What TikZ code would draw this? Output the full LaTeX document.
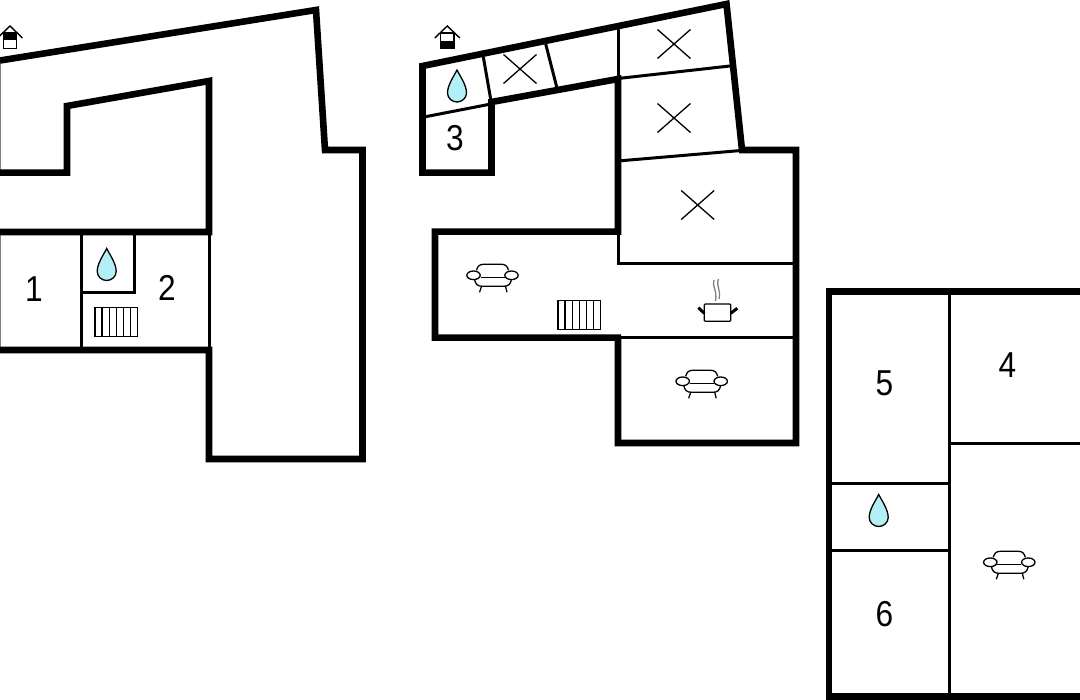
\documentclass[tikz,border=0pt]{standalone}
\usepackage{fontspec}
\setmainfont[FakeStretch=0.88]{Liberation Sans}
\definecolor{dropblue}{HTML}{B2F0F6}
\tikzset{
    wall/.style={line width=6.6pt},
    partition/.style={line width=3pt},
    glyph/.style={line width=1.3pt},
    roomnum/.style={inner sep=0pt, font=\fontsize{36}{38}\selectfont},
    drop/.pic={
        \draw[glyph, fill=dropblue] (0,-16) .. controls (3,-10) and (9.5,-1) .. (9.5,7) .. controls (9.5,12) and (5,16) .. (0,16) .. controls (-5,16) and (-9.5,12) .. (-9.5,7) .. controls (-9.5,-1) and (-3,-10) .. (0,-16) -- cycle;
    },
    radiator/.pic={
        \draw[glyph] (0,0) rectangle (42.6,29);
        \foreach \i in {1,...,5}
            \draw[glyph] (7.1*\i,0) -- (7.1*\i,29);
    },
    sofa/.pic={
        \draw[glyph] (-16,-5) .. controls (-15,-9) and (-13,-11) .. (-9,-11) -- (9,-11) .. controls (13,-11) and (15,-9) .. (16,-5);
        \draw[glyph] (-12,2.5) -- (12,2.5);
        \draw[glyph] (-18,4) .. controls (-17,9) and (-15,11) .. (-10,11) -- (11,11) .. controls (16,11) and (18,9) .. (19,4);
        \draw[glyph] (-11,11) -- (-13,17);
        \draw[glyph] (13,11) -- (14.5,17);
        \draw[glyph, fill=white] (-19,0) ellipse (6.7 and 4.3);
        \draw[glyph, fill=white] (19,0) ellipse (6.7 and 4.3);
    },
    xmark/.pic={
        \draw[glyph] (-16.5,-14.5) -- (16.5,14.5);
        \draw[glyph] (16.5,-14.5) -- (-16.5,14.5);
    },
    pot/.pic={
        \draw[glyph, rounded corners=1pt] (-13.2,0) rectangle (13.2,17.3);
        \draw[line width=3pt] (-19.2,3.7) -- (-13.2,9.3);
        \draw[line width=3pt] (19.8,4.3) -- (13.2,9.3);
        \draw[glyph, gray] (-3.5,-24) .. controls (-6,-18) and (0,-14) .. (-2,-3);
        \draw[glyph, gray] (1,-25) .. controls (-2,-18) and (4,-14) .. (1.5,-5);
    },
    house/.pic={
        \draw[line width=1.4pt] (-12.5,12) -- (0,0) -- (12.5,12);
        \draw[line width=1.4pt, fill=white] (-6.7,7) -- (6.7,7) -- (6.7,22.3) -- (-6.7,22.3) -- cycle;
        \fill (-6.7,#1) rectangle (6.7,#1+7);
    },
}
\begin{document}
\begin{tikzpicture}[x=1pt, y=-1pt]
    \useasboundingbox (0,0) rectangle (1080,700);

    % left plan
    \draw[line width=1pt, gray] (0.4,60) -- (0.4,172);
    \draw[line width=1pt, gray] (0.4,232) -- (0.4,350);
    \draw[partition] (81,232) -- (81,350);
    \draw[partition] (134,232) -- (134,293) -- (81,293);
    \draw[partition] (209,232) -- (209,350);
    \draw[wall] (0,60.5) -- (316,10) -- (325,150) -- (362.5,150) -- (362.5,459) -- (209,459) -- (209,350) -- (0,350);
    \draw[wall] (0,232) -- (209,232) -- (209,81) -- (67,106) -- (67,172.7) -- (0,172.7);
    \node[roomnum] (one) at (34,289) {1};
    \node[roomnum] (two) at (167,288) {2};
    \pic at (106.7,264.5) {drop};
    \pic at (95,307.3) {radiator};
    \pic at (10,26) {house=7};

    % middle plan
    \draw[partition] (424,117) -- (491,104);
    \draw[partition] (483.3,56.7) -- (491,101);
    \draw[partition] (545.7,44) -- (556.7,87);
    \draw[partition] (618,28) -- (618,78);
    \draw[partition] (618,78.5) -- (730,66);
    \draw[partition] (618,161) -- (741,150.5);
    \draw[partition] (618,232) -- (618,264) -- (796,264);
    \draw[partition] (618,337.7) -- (796,337.7);
    \draw[wall] (618,337.7) -- (618,443) -- (796,443) -- (796,150) -- (742,150) -- (726.5,4) -- (422.5,66) -- (422.5,172.7) -- (491.5,172.7) -- (491.5,102) -- (618,79) -- (618,231.7) -- (435,231.7) -- (435,337.7) -- (621,337.7);
    \node[roomnum] (three) at (455,138) {3};
    \pic at (457,86) {drop};
    \pic at (447.3,26) {house=15.5};
    \pic at (520,69) {xmark};
    \pic at (674,44) {xmark};
    \pic at (674,118) {xmark};
    \pic at (697.7,205) {xmark};
    \pic at (492.5,275.3) {sofa};
    \pic at (701.7,381.3) {sofa};
    \pic at (558,300.7) {radiator};
    \pic at (717.5,304) {pot};

    % right plan
    \draw[partition] (949,292) -- (949,697);
    \draw[partition] (949,444) -- (1080,444);
    \draw[partition] (829,483.3) -- (949,483.3);
    \draw[partition] (829,551) -- (949,551);
    \draw[wall] (1080,291.7) -- (829,291.7) -- (829,696.7) -- (1080,696.7);
    \node[roomnum] (four) at (1007.5,365) {4};
    \node[roomnum] (five) at (884.5,383) {5};
    \node[roomnum] (six) at (884.5,614) {6};
    \pic at (878.7,510.5) {drop};
    \pic at (1009.3,562.3) {sofa};
\end{tikzpicture}
\end{document}
